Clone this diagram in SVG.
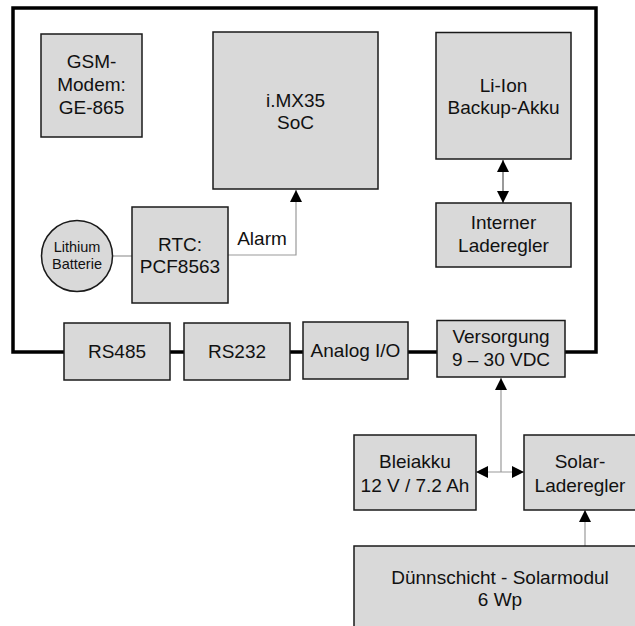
<svg xmlns="http://www.w3.org/2000/svg" width="635" height="626" viewBox="0 0 635 626">
<style>
.box{fill:#d9d9d9;stroke:#1a1a1a;stroke-width:1.5}
.t{font-family:"Liberation Sans",Arial,sans-serif;font-size:19px;fill:#111;text-anchor:middle}
.s{font-family:"Liberation Sans",Arial,sans-serif;font-size:14.5px;fill:#111;text-anchor:middle}
.frame{fill:none;stroke:#000;stroke-width:3.5}
.g{fill:none;stroke:#9a9a9a;stroke-width:1.2}
.k{fill:none;stroke:#555;stroke-width:1.2}
</style>
<defs>
<marker id="ah" viewBox="0 0 12 12" refX="12" refY="6" markerWidth="12" markerHeight="12" markerUnits="userSpaceOnUse" orient="auto-start-reverse">
<path d="M0,0 L12,6 L0,12 z" fill="#000"/>
</marker>
</defs>
<rect width="635" height="626" fill="#fff"/>
<g id="frame">
<rect class="frame" x="13" y="8" width="583" height="344"/>
</g>
<g id="connectors">
<line class="k" x1="503" y1="160" x2="503" y2="203" marker-start="url(#ah)" marker-end="url(#ah)"/>
<line class="g" x1="112" y1="256" x2="132" y2="256"/>
<polyline class="g" points="228,255 296,255 296,190" marker-end="url(#ah)"/>
<line class="g" x1="501" y1="472" x2="501" y2="378" marker-end="url(#ah)"/>
<line class="g" x1="476" y1="472" x2="524" y2="472" marker-start="url(#ah)" marker-end="url(#ah)"/>
<line class="g" x1="585" y1="546" x2="585" y2="510" marker-end="url(#ah)"/>
<text class="t" x="262" y="245">Alarm</text>
</g>
<g id="gsm">
<rect class="box" x="41" y="34" width="101" height="103"/>
<text class="t" x="91.5" y="68">GSM-</text>
<text class="t" x="91.5" y="91">Modem:</text>
<text class="t" x="91.5" y="114">GE-865</text>
</g>
<g id="imx35">
<rect class="box" x="213" y="32" width="165" height="157"/>
<text class="t" x="295.5" y="107">i.MX35</text>
<text class="t" x="295.5" y="129">SoC</text>
</g>
<g id="liion">
<rect class="box" x="436" y="32.5" width="135" height="126.5"/>
<text class="t" x="503.5" y="92">Li-Ion</text>
<text class="t" x="503.5" y="114">Backup-Akku</text>
</g>
<g id="laderegler-intern">
<rect class="box" x="436" y="203" width="135" height="64"/>
<text class="t" x="503.5" y="229">Interner</text>
<text class="t" x="503.5" y="252">Laderegler</text>
</g>
<g id="lithium">
<circle cx="77" cy="256" r="35.5" fill="#d9d9d9" stroke="#1a1a1a" stroke-width="1.5"/>
<text class="s" x="77" y="252">Lithium</text>
<text class="s" x="77" y="269">Batterie</text>
</g>
<g id="rtc">
<rect class="box" x="132" y="207" width="96" height="96"/>
<text class="t" x="180" y="251">RTC:</text>
<text class="t" x="180" y="273">PCF8563</text>
</g>
<g id="rs485">
<rect class="box" x="64" y="323" width="106" height="57"/>
<text class="t" x="117" y="358">RS485</text>
</g>
<g id="rs232">
<rect class="box" x="184" y="323" width="106" height="57"/>
<text class="t" x="237" y="358">RS232</text>
</g>
<g id="analog">
<rect class="box" x="303" y="322" width="105" height="57"/>
<text class="t" x="355.5" y="357">Analog I/O</text>
</g>
<g id="versorgung">
<rect class="box" x="437" y="320.5" width="128" height="56.5"/>
<text class="t" x="501" y="343">Versorgung</text>
<text class="t" x="501" y="366">9 – 30 VDC</text>
</g>
<g id="bleiakku">
<rect class="box" x="354" y="435" width="122" height="75"/>
<text class="t" x="415" y="468">Bleiakku</text>
<text class="t" x="415" y="492">12 V / 7.2 Ah</text>
</g>
<g id="solarladeregler">
<rect class="box" x="524" y="435" width="115" height="75"/>
<text class="t" x="580" y="468">Solar-</text>
<text class="t" x="580" y="492">Laderegler</text>
</g>
<g id="solarmodul">
<rect class="box" x="354" y="546" width="290" height="90"/>
<text class="t" x="500" y="584">Dünnschicht - Solarmodul</text>
<text class="t" x="500" y="606">6 Wp</text>
</g>
</svg>
